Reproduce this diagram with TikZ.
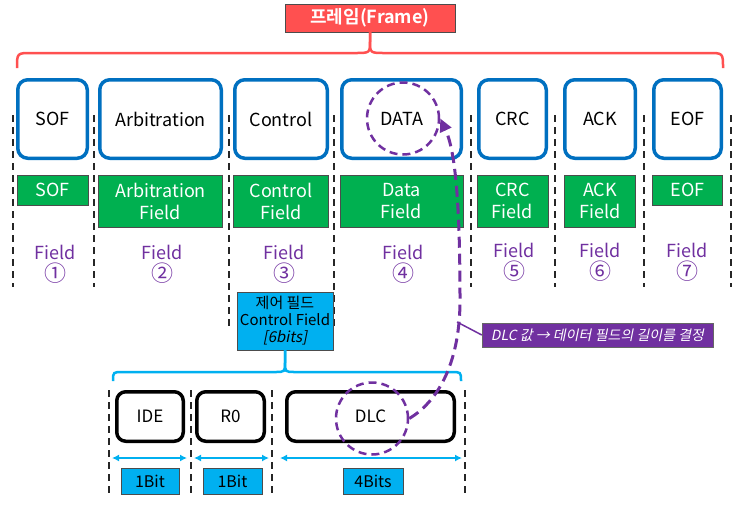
\documentclass[tikz,border=0pt]{standalone}
\usepackage{fontspec}
\setmainfont{Noto Sans CJK KR}[BoldFont={Noto Sans CJK KR Bold},
  ItalicFont={Noto Sans CJK KR}, ItalicFeatures={FakeSlant=0.2}]
\usetikzlibrary{positioning, arrows.meta}
\definecolor{framered}{RGB}{255, 80, 80}
\definecolor{boxblue}{RGB}{0, 112, 192}
\definecolor{fieldgreen}{RGB}{0, 176, 80}
\definecolor{skyblue}{RGB}{0, 176, 240}
\definecolor{dlcpurple}{RGB}{112, 48, 160}
\newcommand{\fieldmark}[1]{Field\\{\fontsize{22}{22}\selectfont #1}}
\tikzset{
  part/.style={draw=boxblue, line width=3.5pt, rounded corners=10pt, fill=white,
               minimum height=78.5pt, font=\fontsize{18}{21}\selectfont},
  fieldbox/.style={draw=black!70, thin, fill=fieldgreen, text=white, align=center,
                   inner sep=2pt, font=\fontsize{18}{22}\selectfont},
  fieldno/.style={text=dlcpurple, align=center, inner sep=1pt,
                  font=\fontsize{18}{22}\selectfont},
  bitpart/.style={draw=black, line width=3.5pt, rounded corners=9pt, fill=white,
                  minimum height=49.5pt, font=\fontsize{17}{20}\selectfont},
  tag/.style={draw=black!70, thin, fill=skyblue, align=center, inner sep=2pt,
              font=\fontsize{15}{17}\selectfont},
  divider/.style={black!85, line width=1.6pt, dash pattern=on 7pt off 5pt},
  ring/.style={circle, draw=dlcpurple, line width=2.5pt, dash pattern=on 8pt off 5pt,
               minimum size=72pt, inner sep=0pt},
  link/.style={-{Triangle[length=13pt, width=12pt]}, dlcpurple, line width=3pt,
               dash pattern=on 11pt off 6pt},
  bitspan/.style={{Latex[length=7pt, width=7pt]}-{Latex[length=7pt, width=7pt]},
                  skyblue, line width=2pt},
}

\begin{document}
\begin{tikzpicture}[x=1pt, y=-1pt]
  \useasboundingbox (0,0) rectangle (743,509);

  % dashed separators
  \foreach \x in {13, 94, 471, 555, 644, 731}
    \draw[divider] (\x,115) -- (\x,287);
  \foreach \x in {229, 334}
    \draw[divider] (\x,115) -- (\x,330);
  \foreach \x in {109, 191, 272, 465}
    \draw[divider] (\x,390) -- (\x,494);

  % frame title and its brace
  \node[draw=black!70, fill=framered, text=white, minimum width=170pt, minimum height=28pt,
        font=\fontsize{18}{21}\selectfont\bfseries] (frame) at (370,18) {프레임(Frame)};
  \draw[framered, line width=2.5pt] (17,68) .. controls (17,53) .. (32,53) -- (355,53)
    .. controls (370,53) .. (370,41) -- (frame.south);
  \draw[framered, line width=2.5pt] (frame.south) -- (370,41)
    .. controls (370,53) .. (385,53) -- (708,53) .. controls (723,53) .. (723,68);

  % frame parts
  \node[part, minimum width=69.5pt] (sof) at (52.5,119) {SOF};
  \node[part, minimum width=121.5pt, right=9pt of sof] (arb) {Arbitration};
  \node[part, minimum width=92.5pt, right=10pt of arb] (ctl) {Control};
  \node[part, minimum width=119.5pt, right=11pt of ctl] (data) {DATA};
  \node[part, minimum width=67.5pt, right=14pt of data] (crc) {CRC};
  \node[part, minimum width=70.5pt, right=15pt of crc] (ack) {ACK};
  \node[part, minimum width=67.5pt, right=15pt of ack] (eof) {EOF};

  \node[fieldbox, minimum width=71pt, minimum height=30pt, below=15pt of sof] (sofF) {SOF};
  \node[fieldbox, minimum width=124pt, minimum height=52pt, below=15pt of arb] (arbF) {Arbitration\\Field};
  \node[fieldbox, minimum width=95pt, minimum height=52pt, below=15pt of ctl] (ctlF) {Control\\Field};
  \node[fieldbox, minimum width=123pt, minimum height=52pt, below=15pt of data] (dataF) {Data\\Field};
  \node[fieldbox, minimum width=71pt, minimum height=52pt, below=15pt of crc] (crcF) {CRC\\Field};
  \node[fieldbox, minimum width=71pt, minimum height=52pt, below=15pt of ack] (ackF) {ACK\\Field};
  \node[fieldbox, minimum width=70pt, minimum height=30pt, below=15pt of eof] (eofF) {EOF};

  \node[fieldno] (no1) at (55,264) {\fieldmark{①}};
  \node[fieldno] (no2) at (162,264) {\fieldmark{②}};
  \node[fieldno] (no3) at (284,264) {\fieldmark{③}};
  \node[fieldno] (no4) at (403,264) {\fieldmark{④}};
  \node[fieldno] (no5) at (514,262) {\fieldmark{⑤}};
  \node[fieldno] (no6) at (600,262) {\fieldmark{⑥}};
  \node[fieldno] (no7) at (687,262) {\fieldmark{⑦}};

  % control field detail
  \node[tag, minimum width=96pt, minimum height=58pt] (ctlbits) at (285,321)
    {제어 필드\\Control Field\\\textit{[6bits]}};
  \draw[skyblue, line width=2.5pt] (113,381) .. controls (113,372) .. (123,372) -- (275,372)
    .. controls (285,372) .. (285,362) -- (ctlbits.south);
  \draw[skyblue, line width=2.5pt] (ctlbits.south) -- (285,362)
    .. controls (285,372) .. (295,372) -- (451,372) .. controls (461,372) .. (461,381);

  \node[bitpart, minimum width=66.5pt] (ide) at (150,416.5) {IDE};
  \node[bitpart, minimum width=67.5pt, right=10pt of ide] (rzero) {R0};
  \node[bitpart, minimum width=167.5pt, right=19pt of rzero] (dlc) {DLC};

  \draw[bitspan] (112,458) -- (187,458);
  \draw[bitspan] (194,458) -- (269,458);
  \draw[bitspan] (280,458) -- (462,458);

  \node[tag, minimum width=58pt, minimum height=26pt, font=\fontsize{16}{18}\selectfont] (ideB) at (150,481) {1Bit};
  \node[tag, minimum width=59pt, minimum height=26pt, font=\fontsize{16}{18}\selectfont] (rzeroB) at (232.5,481) {1Bit};
  \node[tag, minimum width=60pt, minimum height=26pt, font=\fontsize{16}{18}\selectfont] (dlcB) at (373,481) {4Bits};

  % DLC decides the data length
  \node[ring] (dataring) at (403,118.5) {};
  \node[ring] (dlcring) at (372,418.5) {};
  \draw[link] (dlcring.east) .. controls (440,400) and (460,360) .. (460,300)
    .. controls (460,200) and (455,150) .. (dataring.east);

  \coordinate (tap) at (457,322);
  \node[draw=black!60, fill=dlcpurple, text=white, minimum width=231pt, minimum height=24pt,
        inner sep=2pt, font=\fontsize{14}{16}\selectfont\itshape] (dlcnote) at (597.5,335)
    {DLC 값 → 데이터 필드의 길이를 결정};
  \draw[dlcpurple, line width=1.5pt] (tap) -- (dlcnote.west);
\end{tikzpicture}
\end{document}
